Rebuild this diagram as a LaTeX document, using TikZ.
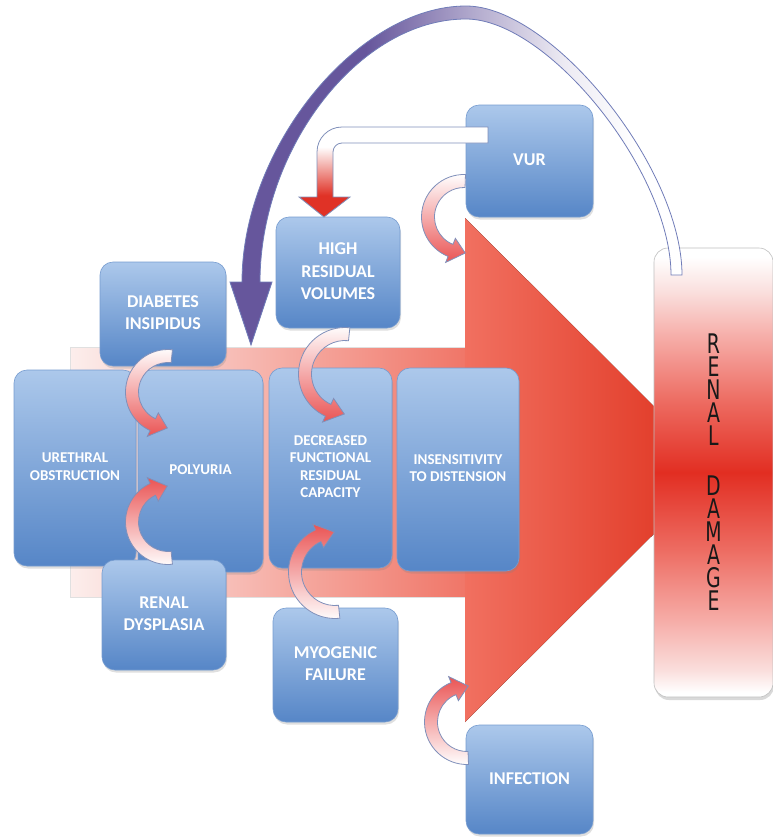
\documentclass[tikz,border=0pt]{standalone}
\usepackage{fontspec}
\setmainfont{Carlito}
\newfontfamily\renalfont[FakeStretch=0.7]{DejaVu Sans}
\usetikzlibrary{shadows}
\definecolor{boxtop}{RGB}{172,200,235}
\definecolor{boxbot}{RGB}{86,134,199}
\definecolor{boxedge}{RGB}{118,156,208}
\definecolor{curvred}{RGB}{234,84,84}
\definecolor{elbred}{RGB}{224,50,38}
\definecolor{arcpurple}{RGB}{102,86,156}
\definecolor{arcedge}{RGB}{112,124,184}
\definecolor{curvedge}{RGB}{128,144,186}
\definecolor{shaftL}{RGB}{252,238,236}
\definecolor{shaftR}{RGB}{240,118,104}
\definecolor{headL}{RGB}{241,112,96}
\definecolor{headR}{RGB}{222,48,28}
\definecolor{rdred}{RGB}{226,46,34}
\definecolor{rdmid}{RGB}{237,108,98}
\definecolor{rdpink}{RGB}{246,172,167}
\definecolor{rdpale}{RGB}{250,222,220}
\colorlet{arcmid}{arcpurple!50!white}
\colorlet{arclight}{arcpurple!12!white}
\pgfdeclareverticalshading{elbowshade}{100bp}{color(0bp)=(elbred); color(37bp)=(elbred); color(64bp)=(white); color(100bp)=(white)}
\pgfdeclarehorizontalshading{arcshade}{100bp}{color(0bp)=(arcpurple); color(40bp)=(arcpurple); color(52bp)=(arcmid); color(62bp)=(arclight); color(70bp)=(white); color(100bp)=(white)}
\pgfdeclareverticalshading{renalshade}{100bp}{color(0bp)=(white); color(25.5bp)=(white); color(28bp)=(rdpale); color(33.6bp)=(rdpink); color(41.4bp)=(rdmid); color(50bp)=(rdred); color(58bp)=(rdmid); color(65bp)=(rdpink); color(70bp)=(rdpale); color(74bp)=(white); color(100bp)=(white)}
\newcommand{\bendarrow}[7]{%
  \pgfmathsetmacro\bRo{#3+6.5}\pgfmathsetmacro\bRi{#3-6.5}%
  \pgfmathsetmacro\bHo{#3+13}\pgfmathsetmacro\bHi{#3-13}%
  \pgfmathsetmacro\bT{#5+#6}%
  \path[curvestyle,#7,shift={(#1,#2)}] (#4:\bRo) arc[start angle=#4,end angle=#5,radius=\bRo]
    -- (#5:\bHo) -- (\bT:#3) -- (#5:\bHi) -- (#5:\bRi)
    arc[start angle=#5,end angle=#4,radius=\bRi] -- cycle;}
\newcommand{\btext}[2][-5pt]{\raisebox{#1}{\begin{tabular}{@{}c@{}}#2\end{tabular}}}
\tikzset{
  bluebox/.style={rounded corners=13pt, top color=boxtop, bottom color=boxbot,
    draw=boxedge, line width=0.6pt, text=white, align=center, inner sep=0pt,
    drop shadow={shadow xshift=1pt, shadow yshift=-2.5pt, opacity=0.25}},
  bigtxt/.style={font=\bfseries\fontsize{18}{22.5}\selectfont},
  smalltxt/.style={font=\bfseries\fontsize{15}{17.5}\selectfont},
  curvestyle/.style={draw=curvedge, line width=0.8pt},
  downshade/.style={top color=white, bottom color=curvred},
  upshade/.style={top color=curvred, bottom color=white},
}
\begin{document}
\begin{tikzpicture}[x=1pt,y=-1pt]
\useasboundingbox (0,0) rectangle (773,838);
% big red arrow
\fill[left color=shaftL, right color=shaftR] (70,347) rectangle (465,597);
\draw[black!12, line width=0.6pt] (465,347) -- (70,347) -- (70,597) -- (465,597);
\fill[left color=headL, right color=headR] (465,218) -- (718,470) -- (465,722) -- cycle;
% renal damage
\node[draw=black!25, line width=0.6pt, rounded corners=14pt, shade, shading=renalshade,
  minimum width=119pt, minimum height=449pt, inner sep=0pt, align=center, text=black!90,
  drop shadow={shadow xshift=1pt, shadow yshift=-3pt, opacity=0.3},
  font=\renalfont\fontsize{27}{23}\selectfont] (renal) at (713.5,472.5)
  {R\\E\\N\\A\\L\\[27pt]D\\A\\M\\A\\G\\E};
% blue boxes
\node[bluebox,smalltxt,minimum width=125pt,minimum height=202pt] (poly) at (200.5,471) {\btext[-3.5pt]{POLYURIA}};
\node[bluebox,smalltxt,minimum width=122pt,minimum height=196pt] (ureth) at (75,468) {\btext[-7pt]{URETHRAL\\OBSTRUCTION}};
\node[bluebox,smalltxt,minimum width=123pt,minimum height=200pt] (dfrc) at (330.5,468) {\btext[-5.5pt]{DECREASED\\FUNCTIONAL\\RESIDUAL\\CAPACITY}};
\node[bluebox,smalltxt,minimum width=122pt,minimum height=203pt] (insens) at (458,469.5) {\btext[-5pt]{INSENSITIVITY\\TO DISTENSION}};
\node[bluebox,bigtxt,minimum width=126pt,minimum height=104pt] (diab) at (163,314) {\btext[-6pt]{DIABETES\\INSIPIDUS}};
\node[bluebox,bigtxt,minimum width=124pt,minimum height=110pt] (dysp) at (164,615) {\btext[-5pt]{RENAL\\DYSPLASIA}};
\node[bluebox,bigtxt,minimum width=124pt,minimum height=111pt] (hrv) at (338,272.5) {\btext[-4pt]{HIGH\\RESIDUAL\\VOLUMES}};
\node[bluebox,bigtxt,minimum width=125pt,minimum height=114pt] (myo) at (335.5,665) {\btext[6pt]{MYOGENIC\\FAILURE}};
\node[bluebox,bigtxt,minimum width=127pt,minimum height=112pt] (vur) at (529.5,161) {\btext[-3.5pt]{VUR}};
\node[bluebox,bigtxt,minimum width=127pt,minimum height=109pt] (inf) at (529.5,779.5) {\btext[-5pt]{INFECTION}};
% curved arrows
\bendarrow{168}{392}{36}{276}{115}{-24}{downshade}
\bendarrow{168}{522}{36}{84}{245}{24}{upshade}
\bendarrow{345}{374}{40}{276}{115}{-24}{downshade}
\bendarrow{335}{572}{40}{84}{245}{24}{upshade}
\bendarrow{464}{217}{36}{272}{112}{-24}{downshade}
\bendarrow{467}{722}{36}{88}{248}{24}{upshade}
% elbow arrow VUR -> high residual volumes
\path[shade, shading=elbowshade, draw=curvedge, line width=0.8pt]
  (488,127) -- (342,127) arc[start angle=270, end angle=180, radius=25]
  -- (317,197) -- (299,197) -- (324,217) -- (350,197) -- (333,197) -- (333,152)
  arc[start angle=180, end angle=270, radius=9] -- (488,143) -- cycle;
% big arc arrow renal damage -> polyuria
\path[shade, shading=arcshade, draw=arcedge, line width=0.8pt]
  (682,275) .. controls (682,168) and (552,6) .. (466,6)
  .. controls (358,6) and (242,147) .. (242,282)
  -- (230,282) -- (251,345) -- (272,282) -- (260,282)
  .. controls (260,149) and (359,19) .. (466,19)
  .. controls (548,19) and (671,172) .. (671,275) -- cycle;
\end{tikzpicture}
\end{document}
